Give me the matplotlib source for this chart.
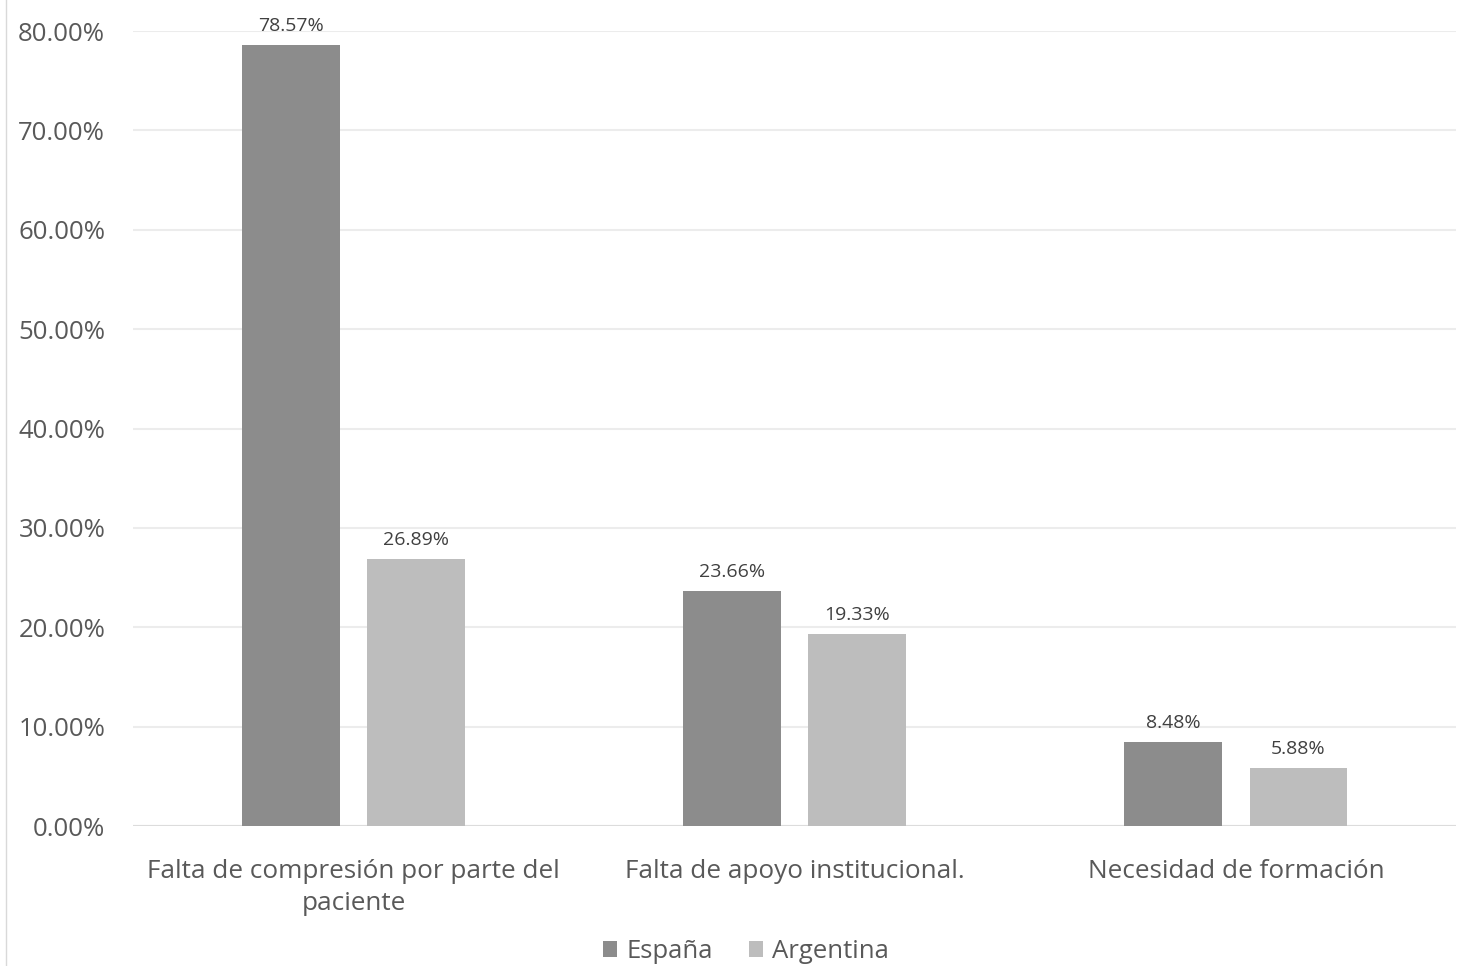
import numpy as np
import matplotlib.pyplot as plt
from matplotlib.ticker import FuncFormatter

# Datos
categorias = ['Falta de compresión por parte del\npaciente',
              'Falta de apoyo institucional.',
              'Necesidad de formación']
espana = [78.57, 23.66, 8.48]
argentina = [26.89, 19.33, 5.88]
ticks_y = [0, 10, 20, 30, 40, 50, 60, 70, 80]

plt.rcParams['font.family'] = ['Open Sans', 'DejaVu Sans']
texto = '#595959'

fig = plt.figure(figsize=(14.57, 9.66), dpi=100)
ax = fig.add_axes([0.0913, 0.1449, 0.9083, 0.8230])

x = np.arange(len(categorias))
ancho = 0.222
desp = 0.142
b1 = ax.bar(x - desp, espana, ancho, color='#8c8c8c', label='España', zorder=3)
b2 = ax.bar(x + desp, argentina, ancho, color='#bdbdbd', label='Argentina', zorder=3)

# Etiquetas de valor encima de cada barra
for barras, vals in [(b1, espana), (b2, argentina)]:
    for b, v in zip(barras, vals):
        ax.annotate(f'{v:.2f}%', (b.get_x() + b.get_width() / 2, v),
                    xytext=(0, 7), textcoords='offset points',
                    ha='center', va='bottom', fontsize=14, color='#404040')

ax.set_xlim(-0.5, 2.5)
ax.set_ylim(0, 80)
ax.set_yticks(ticks_y)
ax.yaxis.set_major_formatter(FuncFormatter(lambda v, p: f'{v:.2f}%'))
ax.set_xticks(x)
ax.set_xticklabels(categorias, fontsize=18.8, color=texto, linespacing=1.35)
ax.tick_params(axis='y', labelsize=18.5, labelcolor=texto, length=0, pad=20)
ax.tick_params(axis='x', length=0, pad=24)
ax.grid(axis='y', color='#ececec', linewidth=1.5, zorder=0)
for s in ax.spines.values():
    s.set_visible(False)
ax.axhline(0, color='#dcdcdc', linewidth=1.5, zorder=2)

fig.legend(loc='lower center', bbox_to_anchor=(0.512, -0.022), ncol=2,
           frameon=False, fontsize=18.5, labelcolor=texto,
           handlelength=0.55, handleheight=0.55, handletextpad=0.35,
           columnspacing=1.4)

# borde izquierdo del área del gráfico
fig.add_artist(plt.Line2D([0.004, 0.004], [0, 1], color='#d9d9d9', linewidth=1))

fig.savefig('out.png', dpi=100)
